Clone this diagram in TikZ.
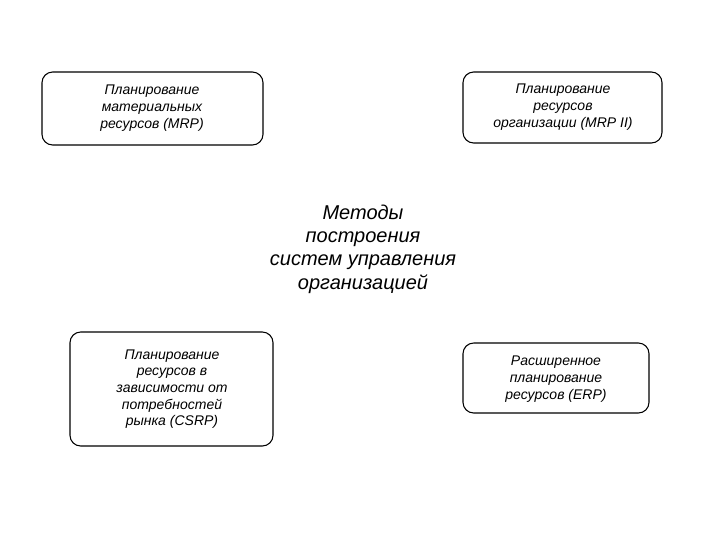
\documentclass[tikz,border=0pt]{standalone}
\usepackage{fontspec}
\setmainfont{Liberation Sans}
\begin{document}
\begin{tikzpicture}[x=0.75pt,y=-0.75pt,
  bx/.style={draw,rounded corners=8pt,line width=0.8pt,align=center,font=\itshape\fontsize{10.5}{12.5}\selectfont,inner sep=0pt}]
\useasboundingbox (0,0) rectangle (720,540);
\draw[bx] (42,72) rectangle (263,145);
\node[align=center,font=\itshape\fontsize{10.5}{12.5}\selectfont] (a) at (152,108) {Планирование\\материальных\\ресурсов (MRP)};
\draw[bx] (463,72) rectangle (662,143);
\node[align=center,font=\itshape\fontsize{10.5}{12.5}\selectfont] (b) at (563,107) {Планирование\\ресурсов\\организации (MRP II)};
\draw[bx] (70,332) rectangle (273,446);
\node[align=center,font=\itshape\fontsize{10.5}{12.5}\selectfont] (c) at (172,389) {Планирование\\ресурсов в\\зависимости от\\потребностей\\рынка (CSRP)};
\draw[bx] (463,343) rectangle (649,413);
\node[align=center,font=\itshape\fontsize{10.5}{12.5}\selectfont] (d) at (556,379) {Расширенное\\планирование\\ресурсов (ERP)};
\node[align=center,font=\itshape\fontsize{15}{17.5}\selectfont] (m) at (363,249) {Методы\\построения\\систем управления\\организацией};
\end{tikzpicture}
\end{document}
